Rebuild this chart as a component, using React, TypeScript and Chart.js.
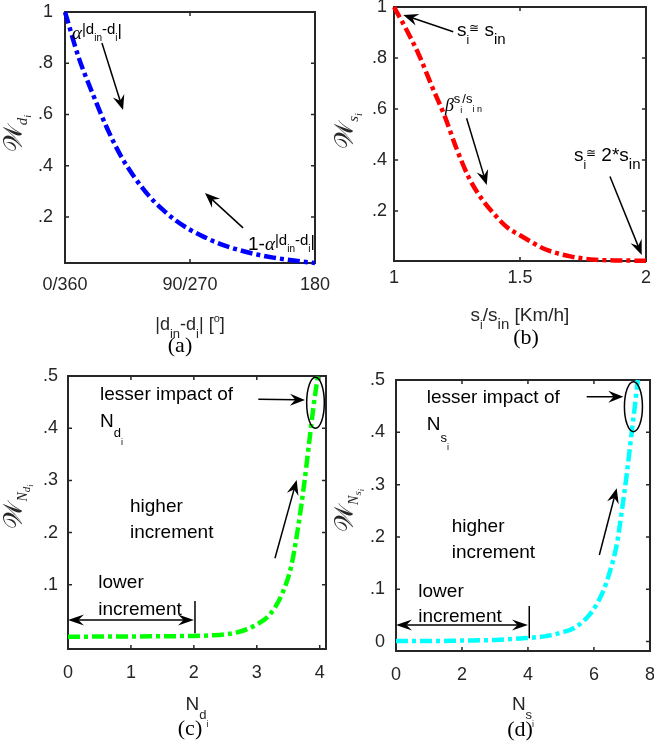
import React, { useEffect, useRef } from 'react';
import { Chart, registerables } from 'chart.js';
Chart.register(...registerables);

const W = 654;
const H = 745;

// ---------- data ----------
// (a) direction weight
const aX = [0, 10, 20, 30, 40, 50, 60, 70, 80, 90, 100, 110, 120, 130, 140, 150, 160, 170, 180];
const aY = [1, 0.82, 0.68, 0.55, 0.44, 0.355, 0.285, 0.23, 0.185, 0.15, 0.122, 0.098, 0.079, 0.064, 0.051, 0.041, 0.033, 0.026, 0.02];
const aXTicks = [0, 90, 180];
const aXTickLabels = ['0/360', '90/270', '180'];
const aYTicks = [0.2, 0.4, 0.6, 0.8, 1];

// (b) speed weight
const bX = [1, 1.05, 1.1, 1.15, 1.2, 1.25, 1.3, 1.35, 1.4, 1.45, 1.5, 1.55, 1.6, 1.7, 1.8, 1.9, 2];
const bY = [1, 0.91, 0.81, 0.69, 0.575, 0.44, 0.325, 0.245, 0.185, 0.135, 0.105, 0.076, 0.05, 0.022, 0.009, 0.006, 0.005];
const bXTicks = [1, 1.5, 2];
const bXTickLabels = ['1', '1.5', '2'];
const bYTicks = [0.2, 0.4, 0.6, 0.8, 1];

// (c) N_d weight
const cX = [0, 0.5, 1, 1.5, 2, 2.25, 2.5, 2.75, 3, 3.2, 3.4, 3.55, 3.65, 3.75, 3.83, 3.9, 3.97];
const cY = [0.0005, 0.0008, 0.001, 0.0015, 0.002, 0.003, 0.005, 0.011, 0.024, 0.042, 0.082, 0.137, 0.205, 0.29, 0.37, 0.44, 0.5];
const cXTicks = [0, 1, 2, 3, 4];
const cXTickLabels = ['0', '1', '2', '3', '4'];
const cYTicks = [0.1, 0.2, 0.3, 0.4, 0.5];

// (d) N_s weight
const dX = [0, 1, 2, 3, 3.75, 4.5, 5, 5.4, 5.9, 6.25, 6.5, 6.7, 6.85, 7, 7.13, 7.25, 7.33];
const dY = [0.001, 0.001, 0.002, 0.003, 0.006, 0.01, 0.017, 0.026, 0.054, 0.092, 0.137, 0.188, 0.252, 0.322, 0.392, 0.455, 0.5];
const dXTicks = [0, 2, 4, 6, 7.7];
const dXTickLabels = ['0', '2', '4', '6', '8'];
const dYTicks = [0, 0.1, 0.2, 0.3, 0.4, 0.5];

// ---------- text helpers ----------
const SANS = '"Liberation Sans", Arial, Helvetica, sans-serif';
const SERIF = '"Liberation Serif", "Times New Roman", serif';
const MATHF = '"DejaVu Serif", "DejaVu Sans", "Noto Sans", serif';

type Seg = { t: string; s: number; dy?: number; f?: 'sans' | 'serif' | 'serifI' | 'math' };

function fontOf(sg: Seg) {
  const f = sg.f || 'sans';
  const fam = f === 'serif' || f === 'serifI' ? SERIF : f === 'math' ? MATHF : SANS;
  return `${f === 'serifI' ? 'italic ' : ''}${sg.s}px ${fam}`;
}

function drawRich(ctx: CanvasRenderingContext2D, segs: Seg[], x: number, y: number, align: 'left' | 'center') {
  ctx.textAlign = 'left';
  ctx.textBaseline = 'alphabetic';
  const ws = segs.map((sg) => {
    ctx.font = fontOf(sg);
    return ctx.measureText(sg.t).width;
  });
  const total = ws.reduce((a, b) => a + b, 0);
  let cx = align === 'center' ? x - total / 2 : x;
  segs.forEach((sg, i) => {
    ctx.font = fontOf(sg);
    ctx.fillText(sg.t, cx, y + (sg.dy || 0));
    cx += ws[i];
  });
}

function txt(t: string, s = 19): Seg[] {
  return [{ t, s }];
}

type Ann =
  | { k: 'text'; x: number; y: number; segs: Seg[] }
  | { k: 'arrow'; x1: number; y1: number; x2: number; y2: number; both?: boolean; hl?: number; hw?: number }
  | { k: 'line'; x1: number; y1: number; x2: number; y2: number }
  | { k: 'ellipse'; x: number; y: number; rx: number; ry: number };

interface Panel {
  xs: number[];
  ys: number[];
  color: string;
  area: { l: number; t: number; r: number; b: number };
  xMin: number;
  xMax: number;
  yMin: number;
  yMax: number;
  xTicks: number[];
  xTickLabels: string[];
  yTicks: number[];
  xPad: number;
  yPad: number;
  xTitle: Seg[];
  xTitleDx: number;
  xTitleDy: number;
  tag: string;
  tagDx: number;
  tagDy: number;
  yTitle: Seg[];
  yTitleDx: number;
  yTitleDy: number;
  anns: Ann[];
}

const alphaSegs: Seg[] = [
  { t: 'α', s: 19, f: 'serifI' },
  { t: '|d', s: 15, dy: -5 },
  { t: 'in', s: 10, dy: 2 },
  { t: '-d', s: 15, dy: -5 },
  { t: 'i', s: 10, dy: 2 },
  { t: '|', s: 17, dy: -3 },
];

const WCAL = '𝒲';

const panels: Panel[] = [
  {
    xs: aX, ys: aY, color: '#0000FF',
    area: { l: 65, t: 12, r: 315, b: 263 },
    xMin: 0, xMax: 180, yMin: 0.02, yMax: 1,
    xTicks: aXTicks, xTickLabels: aXTickLabels, yTicks: aYTicks,
    xPad: 13, yPad: 12,
    xTitle: [
      { t: '|d', s: 18 }, { t: 'in', s: 13, dy: 8 }, { t: '-d', s: 18 }, { t: 'i', s: 13, dy: 8 },
      { t: '| [', s: 18 }, { t: 'o', s: 11, dy: -8 }, { t: ']', s: 18 },
    ],
    xTitleDx: 0, xTitleDy: 67,
    tag: '(a)', tagDx: -10, tagDy: 89,
    yTitle: [{ t: WCAL, s: 26, f: 'math' }, { t: 'd', s: 15, dy: 5, f: 'serifI' }, { t: 'i', s: 10, dy: 9, f: 'serifI' }],
    yTitleDx: -43, yTitleDy: -4,
    anns: [
      { k: 'text', x: 5.04, y: 0.8946, segs: alphaSegs },
      { k: 'text', x: 131.8, y: 0.0708, segs: [{ t: '1-', s: 19 }, ...alphaSegs] },
      { k: 'arrow', x1: 26.6, y1: 0.879, x2: 41.8, y2: 0.617 },
      { k: 'arrow', x1: 128.2, y1: 0.157, x2: 100.8, y2: 0.293 },
    ],
  },
  {
    xs: bX, ys: bY, color: '#FF0000',
    area: { l: 394, t: 7, r: 646, b: 261 },
    xMin: 1, xMax: 2, yMin: 0.004, yMax: 1,
    xTicks: bXTicks, xTickLabels: bXTickLabels, yTicks: bYTicks,
    xPad: 8, yPad: 7,
    xTitle: [{ t: 's', s: 19 }, { t: 'i', s: 12, dy: 8 }, { t: '/s', s: 19 }, { t: 'in', s: 15, dy: 8 }, { t: ' [Km/h]', s: 19 }],
    xTitleDx: 0, xTitleDy: 60,
    tag: '(b)', tagDx: 6, tagDy: 83,
    yTitle: [{ t: WCAL, s: 26, f: 'math' }, { t: 's', s: 15, dy: 5, f: 'serifI' }, { t: 'i', s: 10, dy: 9, f: 'serifI' }],
    yTitleDx: -41, yTitleDy: -3,
    anns: [
      { k: 'text', x: 1.25, y: 0.886, segs: [{ t: 's', s: 19 }, { t: 'i', s: 12, dy: 8 }, { t: '≅', s: 12, dy: -4 }, { t: ' s', s: 19 }, { t: 'in', s: 15, dy: 8 }] },
      { k: 'arrow', x1: 1.235, y1: 0.903, x2: 1.037, y2: 0.969 },
      { k: 'text', x: 1.202, y: 0.592, segs: [{ t: 'β', s: 18, f: 'serifI' }, { t: 's', s: 13, dy: -8 }, { t: 'i', s: 9, dy: 2 }, { t: '/s', s: 13, dy: -8 }, { t: 'i n', s: 9, dy: 1 }] },
      { k: 'arrow', x1: 1.288, y1: 0.5636, x2: 1.368, y2: 0.302 },
      { k: 'text', x: 1.714, y: 0.396, segs: [{ t: 's', s: 19 }, { t: 'i', s: 12, dy: 8 }, { t: '≅', s: 12, dy: -4 }, { t: ' 2*s', s: 19 }, { t: 'in', s: 15, dy: 8 }] },
      { k: 'arrow', x1: 1.857, y1: 0.335, x2: 1.983, y2: 0.0276 },
    ],
  },
  {
    xs: cX, ys: cY, color: '#00FF00',
    area: { l: 68, t: 376, r: 326, b: 649 },
    xMin: 0, xMax: 4.1, yMin: -0.023, yMax: 0.5,
    xTicks: cXTicks, xTickLabels: cXTickLabels, yTicks: cYTicks,
    xPad: 15, yPad: 10,
    xTitle: [{ t: 'N', s: 19 }, { t: 'd', s: 13, dy: 9 }, { t: 'i', s: 9, dy: 17 }],
    xTitleDx: 0, xTitleDy: 61,
    tag: '(c)', tagDx: -7, tagDy: 86,
    yTitle: [{ t: WCAL, s: 26, f: 'math' }, { t: 'N', s: 14, dy: 5, f: 'serifI' }, { t: 'd', s: 11, dy: 8, f: 'serifI' }, { t: 'i', s: 8, dy: 11, f: 'serifI' }],
    yTitleDx: -46, yTitleDy: -6,
    anns: [
      { k: 'text', x: 0.509, y: 0.454, segs: txt('lesser impact of') },
      { k: 'text', x: 0.509, y: 0.4023, segs: [{ t: 'N', s: 19 }, { t: 'd', s: 13, dy: 10 }, { t: 'i', s: 9, dy: 18 }] },
      { k: 'arrow', x1: 3.024, y1: 0.4554, x2: 3.766, y2: 0.454 },
      { k: 'ellipse', x: 3.933, y: 0.4487, rx: 0.14, ry: 0.0489 },
      { k: 'text', x: 0.985, y: 0.24, segs: txt('higher') },
      { k: 'text', x: 0.985, y: 0.189, segs: txt('increment') },
      { k: 'arrow', x1: 3.289, y1: 0.1508, x2: 3.634, y2: 0.3008 },
      { k: 'text', x: 0.482, y: 0.0933, segs: txt('lower') },
      { k: 'text', x: 0.482, y: 0.0421, segs: txt('increment') },
      { k: 'arrow', x1: 0, y1: 0.0325, x2: 2.002, y2: 0.0325, both: true, hl: 16, hw: 11 },
      { k: 'line', x1: 2.018, y1: 0.069, x2: 2.018, y2: 0.0072 },
    ],
  },
  {
    xs: dX, ys: dY, color: '#00FFFF',
    area: { l: 396, t: 380, r: 650, b: 651 },
    xMin: 0, xMax: 7.7, yMin: -0.018, yMax: 0.5,
    xTicks: dXTicks, xTickLabels: dXTickLabels, yTicks: dYTicks,
    xPad: 15, yPad: 11,
    xTitle: [{ t: 'N', s: 19 }, { t: 's', s: 13, dy: 9 }, { t: 'i', s: 9, dy: 17 }],
    xTitleDx: 0, xTitleDy: 59,
    tag: '(d)', tagDx: -3, tagDy: 85,
    yTitle: [{ t: WCAL, s: 26, f: 'math' }, { t: 'N', s: 14, dy: 5, f: 'serifI' }, { t: 's', s: 11, dy: 8, f: 'serifI' }, { t: 'i', s: 8, dy: 11, f: 'serifI' }],
    yTitleDx: -43, yTitleDy: -5,
    anns: [
      { k: 'text', x: 0.93, y: 0.4554, segs: txt('lesser impact of') },
      { k: 'text', x: 0.93, y: 0.4044, segs: [{ t: 'N', s: 19 }, { t: 's', s: 13, dy: 12 }, { t: 'i', s: 9, dy: 20 }] },
      { k: 'arrow', x1: 5.781, y1: 0.468, x2: 6.891, y2: 0.468 },
      { k: 'ellipse', x: 7.198, y: 0.449, rx: 0.273, ry: 0.0478 },
      { k: 'text', x: 1.688, y: 0.21, segs: txt('higher') },
      { k: 'text', x: 1.688, y: 0.1592, segs: txt('increment') },
      { k: 'arrow', x1: 6.164, y1: 0.1655, x2: 6.69, y2: 0.293 },
      { k: 'text', x: 0.677, y: 0.0858, segs: txt('lower') },
      { k: 'text', x: 0.677, y: 0.038, segs: txt('increment') },
      { k: 'arrow', x1: 0, y1: 0.0316, x2: 4.0, y2: 0.0316, both: true, hl: 16, hw: 11 },
      { k: 'line', x1: 4.04, y1: 0.068, x2: 4.04, y2: 0.0063 },
    ],
  },
];

// ---------- drawing helpers ----------
function arrowHead(ctx: CanvasRenderingContext2D, fx: number, fy: number, tx: number, ty: number, L: number, Wd: number) {
  const a = Math.atan2(ty - fy, tx - fx);
  const ux = Math.cos(a), uy = Math.sin(a);
  const nx = -uy, ny = ux;
  const bx = tx - ux * L, by = ty - uy * L;
  ctx.beginPath();
  ctx.moveTo(tx, ty);
  ctx.lineTo(bx + (nx * Wd) / 2, by + (ny * Wd) / 2);
  ctx.lineTo(tx - ux * L * 0.65, ty - uy * L * 0.65);
  ctx.lineTo(bx - (nx * Wd) / 2, by - (ny * Wd) / 2);
  ctx.closePath();
  ctx.fill();
}

function makePlugin(p: Panel) {
  return {
    id: 'decor',
    beforeDatasetsDraw(chart: any) {
      const ctx: CanvasRenderingContext2D = chart.ctx;
      const { left, top, right, bottom } = chart.chartArea;
      const xs = chart.scales.x, ys = chart.scales.y;
      ctx.save();
      ctx.strokeStyle = '#262626';
      ctx.lineWidth = 1.5;
      const TL = 4;
      ctx.beginPath();
      xs.ticks.forEach((t: any) => {
        const px = xs.getPixelForValue(t.value);
        ctx.moveTo(px, bottom); ctx.lineTo(px, bottom - TL);
        ctx.moveTo(px, top); ctx.lineTo(px, top + TL);
      });
      ys.ticks.forEach((t: any) => {
        const py = ys.getPixelForValue(t.value);
        ctx.moveTo(left, py); ctx.lineTo(left + TL, py);
        ctx.moveTo(right, py); ctx.lineTo(right - TL, py);
      });
      ctx.stroke();
      ctx.lineWidth = 2;
      ctx.strokeRect(left, top, right - left, bottom - top);
      ctx.restore();
    },
    afterDraw(chart: any) {
      const ctx: CanvasRenderingContext2D = chart.ctx;
      const { left, top, right, bottom } = chart.chartArea;
      const xs = chart.scales.x, ys = chart.scales.y;
      const X = (v: number) => xs.getPixelForValue(v);
      const Y = (v: number) => ys.getPixelForValue(v);
      const cx = (left + right) / 2, cy = (top + bottom) / 2;
      ctx.save();
      // axis titles
      ctx.fillStyle = '#262626';
      drawRich(ctx, p.xTitle, cx + p.xTitleDx, bottom + p.xTitleDy, 'center');
      ctx.save();
      ctx.translate(left + p.yTitleDx, cy + p.yTitleDy);
      ctx.rotate(-Math.PI / 2);
      drawRich(ctx, p.yTitle, 0, 0, 'center');
      ctx.restore();
      ctx.fillStyle = '#000';
      drawRich(ctx, [{ t: p.tag, s: 22, f: 'serif' }], cx + p.tagDx, bottom + p.tagDy, 'center');
      // annotations
      ctx.strokeStyle = '#000';
      ctx.fillStyle = '#000';
      ctx.lineWidth = 1.5;
      p.anns.forEach((a) => {
        if (a.k === 'text') {
          drawRich(ctx, a.segs, X(a.x), Y(a.y), 'left');
        } else if (a.k === 'line') {
          ctx.beginPath();
          ctx.moveTo(X(a.x1), Y(a.y1));
          ctx.lineTo(X(a.x2), Y(a.y2));
          ctx.stroke();
        } else if (a.k === 'ellipse') {
          const ex = X(a.x), ey = Y(a.y);
          const rx = Math.abs(X(a.x + a.rx) - ex), ry = Math.abs(Y(a.y + a.ry) - ey);
          ctx.beginPath();
          ctx.ellipse(ex, ey, rx, ry, 0, 0, Math.PI * 2);
          ctx.stroke();
        } else if (a.k === 'arrow') {
          const L = a.hl || 15, Wd = a.hw || 12;
          const x1 = X(a.x1), y1 = Y(a.y1), x2 = X(a.x2), y2 = Y(a.y2);
          const ang = Math.atan2(y2 - y1, x2 - x1);
          const ux = Math.cos(ang), uy = Math.sin(ang);
          const sx = a.both ? x1 + ux * L * 0.6 : x1;
          const sy = a.both ? y1 + uy * L * 0.6 : y1;
          ctx.beginPath();
          ctx.moveTo(sx, sy);
          ctx.lineTo(x2 - ux * L * 0.6, y2 - uy * L * 0.6);
          ctx.stroke();
          arrowHead(ctx, x1, y1, x2, y2, L, Wd);
          if (a.both) arrowHead(ctx, x2, y2, x1, y1, L, Wd);
        }
      });
      ctx.restore();
    },
  };
}

function fmtY(v: number) {
  if (v === 0) return '0';
  if (v === 1) return '1';
  return String(v).replace(/^0/, '');
}

function PanelChart({ p }: { p: Panel }) {
  const ref = useRef<HTMLCanvasElement>(null);
  useEffect(() => {
    const tickFont = { family: SANS, size: 18, lineHeight: 1 };
    const chart = new Chart(ref.current as HTMLCanvasElement, {
      type: 'line',
      data: {
        datasets: [
          {
            data: p.xs.map((x, i) => ({ x, y: p.ys[i] })),
            borderColor: p.color,
            borderWidth: 4.5,
            borderDash: [12, 4, 4, 4],
            borderCapStyle: 'butt',
            pointRadius: 0,
            fill: false,
            cubicInterpolationMode: 'monotone',
            clip: 3,
          } as any,
        ],
      },
      options: {
        animation: false,
        responsive: false,
        events: [],
        plugins: { legend: { display: false }, tooltip: { enabled: false } },
        layout: { autoPadding: false, padding: { left: 0, top: p.area.t, right: W - p.area.r, bottom: 0 } },
        scales: {
          x: {
            type: 'linear',
            min: p.xMin,
            max: p.xMax,
            afterBuildTicks: (s: any) => { s.ticks = p.xTicks.map((v) => ({ value: v })); },
            afterFit: (s: any) => {
              s.height = H - p.area.b;
              s.paddingLeft = 0; s.paddingRight = 0; s.paddingTop = 0; s.paddingBottom = 0;
            },
            ticks: {
              autoSkip: false, maxRotation: 0, minRotation: 0, padding: p.xPad,
              color: '#262626', font: tickFont,
              callback: (_v: any, i: number) => p.xTickLabels[i],
            },
            grid: { display: false, drawTicks: false },
            border: { display: false },
          },
          y: {
            type: 'linear',
            min: p.yMin,
            max: p.yMax,
            afterBuildTicks: (s: any) => { s.ticks = p.yTicks.map((v) => ({ value: v })); },
            afterFit: (s: any) => {
              s.width = p.area.l;
              s.paddingLeft = 0; s.paddingRight = 0; s.paddingTop = 0; s.paddingBottom = 0;
            },
            ticks: {
              autoSkip: false, padding: p.yPad, color: '#262626', font: tickFont,
              callback: (v: any) => fmtY(Number(v)),
            },
            grid: { display: false, drawTicks: false },
            border: { display: false },
          },
        },
      } as any,
      plugins: [makePlugin(p)],
    });
    return () => chart.destroy();
  }, []);
  return (
    <canvas
      ref={ref}
      width={W}
      height={H}
      style={{ position: 'absolute', left: 0, top: 0, width: W, height: H }}
    />
  );
}

export default function App() {
  return (
    <div style={{ position: 'absolute', left: 0, top: 0, width: W, height: H, background: '#fff' }}>
      {panels.map((p, i) => (
        <PanelChart key={i} p={p} />
      ))}
    </div>
  );
}
